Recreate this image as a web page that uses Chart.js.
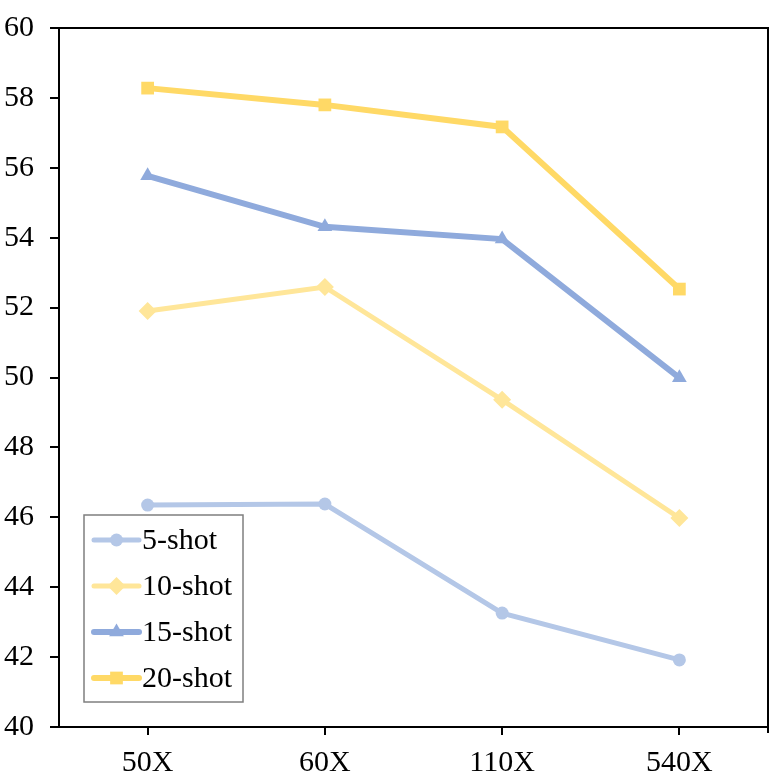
<!DOCTYPE html>
<html>
<head>
<meta charset="utf-8">
<script src="https://cdn.jsdelivr.net/npm/chart.js@4"></script>
<style>
  html, body { margin: 0; padding: 0; background: #fff; }
  #wrap { width: 781px; height: 781px; }
</style>
</head>
<body>
<div id="wrap"><canvas id="shot-chart"></canvas></div>
<script>
const categories = ['50X', '60X', '110X', '540X'];
const shot5 = [46.35, 46.38, 43.26, 41.92];
const shot10 = [51.9, 52.59, 49.36, 45.98];
const shot15 = [55.77, 54.31, 53.96, 49.99];
const shot20 = [58.28, 57.8, 57.17, 52.53];
const seriesNames = ['5-shot', '10-shot', '15-shot', '20-shot'];

const FONT = 'Liberation Serif';

// frame round the plot (top + right sides)
const frame = {
  id: 'frame',
  afterDatasetsDraw(chart) {
    const { ctx, chartArea: { top, bottom, left, right } } = chart;
    ctx.save();
    ctx.strokeStyle = '#000';
    ctx.lineWidth = 2;
    ctx.beginPath();
    ctx.moveTo(left, top);
    ctx.lineTo(right, top);
    ctx.lineTo(right, bottom + 6);
    ctx.stroke();
    ctx.restore();
  }
};

// legend drawn inside the plot, bottom-left
const boxLegend = {
  id: 'boxLegend',
  afterDraw(chart) {
    const { ctx } = chart;
    const x0 = 84, y0 = 515, w = 159, h = 187;
    ctx.save();
    ctx.fillStyle = '#fff';
    ctx.fillRect(x0, y0, w, h);
    ctx.strokeStyle = '#7f7f7f';
    ctx.lineWidth = 1.5;
    ctx.strokeRect(x0, y0, w, h);
    chart.data.datasets.forEach((ds, i) => {
      const y = y0 + 25 + i * 46;
      ctx.strokeStyle = ds.borderColor;
      ctx.lineWidth = ds.borderWidth;
      ctx.lineCap = 'round';
      ctx.beginPath();
      ctx.moveTo(94, y);
      ctx.lineTo(139, y);
      ctx.stroke();
      ctx.fillStyle = ds.borderColor;
      Chart.helpers.drawPoint(ctx, {
        pointStyle: ds.pointStyle,
        radius: ds.pointRadius,
        borderWidth: 0
      }, 116.5, y);
      ctx.fillStyle = '#000';
      ctx.font = '30px "' + FONT + '"';
      ctx.textBaseline = 'middle';
      ctx.fillText(ds.label, 142, y + 1);
    });
    ctx.restore();
  }
};

function series(i, values, color, width, style, radius) {
  return {
    label: seriesNames[i],
    data: values,
    borderColor: color,
    backgroundColor: color,
    pointBackgroundColor: color,
    pointBorderColor: color,
    borderWidth: width,
    pointStyle: style,
    pointRadius: radius,
    pointHoverRadius: radius,
    pointBorderWidth: 0,
    tension: 0,
    fill: false
  };
}

const config = {
  type: 'line',
  data: {
    labels: categories,
    datasets: [
      series(0, shot5, '#B4C7E7', 5, 'circle', 6.5),
      series(1, shot10, '#FFE699', 5, 'rectRot', 9),
      series(2, shot15, '#8FAADC', 6, 'triangle', 8.5),
      series(3, shot20, '#FFD966', 6, 'rect', 9)
    ]
  },
  options: {
    responsive: true,
    maintainAspectRatio: false,
    animation: false,
    layout: { padding: { top: 28, right: 13, left: 0, bottom: 0 } },
    plugins: {
      legend: { display: false },
      tooltip: { enabled: false }
    },
    scales: {
      x: {
        offset: true,
        grid: {
          offset: false,
          drawOnChartArea: false,
          drawTicks: true,
          tickLength: 8,
          color: '#000',
          lineWidth: 2
        },
        border: { display: true, color: '#000', width: 2 },
        ticks: {
          color: '#000',
          font: { family: FONT, size: 30 },
          padding: 10
        },
        afterFit(scale) {
          scale.height = 54;
          scale.paddingLeft = 0;
          scale.paddingRight = 0;
        }
      },
      y: {
        min: 40,
        max: 60,
        grid: {
          drawOnChartArea: false,
          drawTicks: true,
          tickLength: 9,
          color: '#000',
          lineWidth: 2
        },
        border: { display: true, color: '#000', width: 2 },
        ticks: {
          stepSize: 2,
          color: '#000',
          font: { family: FONT, size: 30 },
          padding: 16
        },
        afterFit(scale) {
          scale.width = 59;
          scale.paddingTop = 0;
          scale.paddingBottom = 0;
        }
      }
    }
  },
  plugins: [frame, boxLegend]
};

const shotChart = new Chart(document.getElementById('shot-chart'), config);
</script>
</body>
</html>
